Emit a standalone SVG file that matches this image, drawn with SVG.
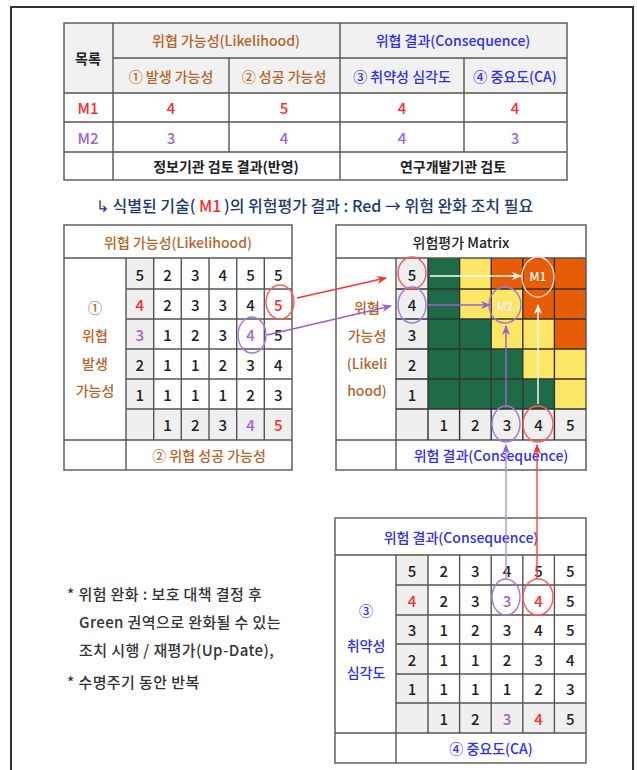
<svg xmlns="http://www.w3.org/2000/svg" width="637" height="770" viewBox="0 0 637 770">
<defs>
<style>
text{font-family:"Noto Sans CJK KR","Noto Sans",sans-serif;text-anchor:middle;dominant-baseline:central;font-size:14px;fill:#222;font-weight:500}
.ln{stroke:#555;stroke-width:1.4;fill:none}
.br{fill:#b5652b}
.bl{fill:#2f2ff0}
.rd{fill:#ff2a2a}
.pu{fill:#a064d2}
.hd{fill:#f1f1f1}
.gc{fill:#efefef}
.g{fill:#1f6b47}
.y{fill:#fde565}
.o{fill:#e85c06}
.n text{font-size:15px}
.note{text-anchor:start;fill:#333;font-size:15px;letter-spacing:0.4px}
.sub{font-size:16px;fill:#1f3a6e;text-anchor:start}
</style>
<marker id="ar" markerWidth="10" markerHeight="8" refX="9" refY="4" orient="auto" markerUnits="userSpaceOnUse"><path d="M0,0 L10,4 L0,8 L3,4 Z" fill="#ff2a2a"/></marker>
<marker id="ap" markerWidth="10" markerHeight="8" refX="9" refY="4" orient="auto" markerUnits="userSpaceOnUse"><path d="M0,0 L10,4 L0,8 L3,4 Z" fill="#9a5fd0"/></marker>
<marker id="aw" markerWidth="10" markerHeight="8" refX="9" refY="4" orient="auto" markerUnits="userSpaceOnUse"><path d="M0,0 L10,4 L0,8 L3,4 Z" fill="#ffffff"/></marker>
</defs>
<rect width="637" height="770" fill="#fff"/>
<path d="M11,770 V7 H633 V770" fill="none" stroke="#333" stroke-width="2"/>

<g id="summary-table">
<rect x="64" y="23" width="503" height="70" class="hd"/>
<rect x="64" y="23" width="503" height="157" class="ln"/>
<path class="ln" d="M113,23 V180 M340,23 V180 M113,58 H567 M229,58 V152 M464,58 V152 M64,93 H567 M64,122 H567 M64,152 H567"/>
<text x="88" y="58" style="font-weight:bold">목록</text>
<text x="226" y="40" class="br">위협 가능성(Likelihood)</text>
<text x="453" y="40" class="bl">위협 결과(Consequence)</text>
<text x="171" y="76" class="br">① 발생 가능성</text>
<text x="284" y="76" class="br">② 성공 가능성</text>
<text x="402" y="76" class="bl">③ 취약성 심각도</text>
<text x="515" y="76" class="bl">④ 중요도(CA)</text>
<g class="n">
<text x="88" y="107" class="rd">M1</text>
<text x="171" y="107" class="rd">4</text>
<text x="284" y="107" class="rd">5</text>
<text x="402" y="107" class="rd">4</text>
<text x="515" y="107" class="rd">4</text>
<text x="88" y="137" class="pu">M2</text>
<text x="171" y="137" class="pu">3</text>
<text x="284" y="137" class="pu">4</text>
<text x="402" y="137" class="pu">4</text>
<text x="515" y="137" class="pu">3</text>
</g>
<text x="226" y="166" style="font-weight:bold">정보기관 검토 결과(반영)</text>
<text x="453" y="166" style="font-weight:bold">연구개발기관 검토</text>
</g>

<g id="subtitle">
<text x="96" y="205" class="sub">↳ 식별된 기술(</text>
<text x="199" y="205" class="sub" style="fill:#ff2a2a">M1</text>
<text x="224" y="205" class="sub">)의 위험평가 결과 : Red → 위험 완화 조치 필요</text>
</g>

<g id="likelihood-table">
<rect x="126" y="258" width="27.7" height="182" class="gc"/>
<rect x="126" y="409" width="166" height="31" class="gc"/>
<rect x="64" y="225" width="228" height="245" class="ln"/>
<path class="ln" d="M64,258 H292 M126,258 V470 M126,289 H292 M126,319 H292 M126,349 H292 M126,379 H292 M126,409 H292 M64,440 H292 M153.7,258 V440 M181.3,258 V440 M209,258 V440 M236.7,258 V440 M264.3,258 V440"/>
<text x="178" y="242" class="br">위협 가능성(Likelihood)</text>
<text x="95" y="307" class="br">①</text>
<text x="95" y="335" class="br">위협</text>
<text x="95" y="363" class="br">발생</text>
<text x="95" y="390" class="br">가능성</text>
<text x="209" y="455" class="br">② 위협 성공 가능성</text>
<g class="n">
<text x="139.8" y="274">5</text><text x="167.5" y="274">2</text><text x="195.2" y="274">3</text><text x="222.8" y="274">4</text><text x="250.5" y="274">5</text><text x="278.2" y="274">5</text>
<text x="139.8" y="304" class="rd">4</text><text x="167.5" y="304">2</text><text x="195.2" y="304">3</text><text x="222.8" y="304">3</text><text x="250.5" y="304">4</text><text x="278.2" y="304" class="rd">5</text>
<text x="139.8" y="334" class="pu">3</text><text x="167.5" y="334">1</text><text x="195.2" y="334">2</text><text x="222.8" y="334">3</text><text x="250.5" y="334" class="pu">4</text><text x="278.2" y="334">5</text>
<text x="139.8" y="364">2</text><text x="167.5" y="364">1</text><text x="195.2" y="364">1</text><text x="222.8" y="364">2</text><text x="250.5" y="364">3</text><text x="278.2" y="364">4</text>
<text x="139.8" y="394">1</text><text x="167.5" y="394">1</text><text x="195.2" y="394">1</text><text x="222.8" y="394">1</text><text x="250.5" y="394">2</text><text x="278.2" y="394">3</text>
<text x="167.5" y="424.5">1</text><text x="195.2" y="424.5">2</text><text x="222.8" y="424.5">3</text><text x="250.5" y="424.5" class="pu">4</text><text x="278.2" y="424.5" class="rd">5</text>
</g>
<ellipse cx="280" cy="302" rx="14" ry="17" fill="none" stroke="#ff5a5a" stroke-width="1.4"/>
<ellipse cx="252" cy="335" rx="14" ry="18" fill="none" stroke="#a27ad8" stroke-width="1.4"/>
</g>

<g id="risk-matrix">
<rect x="396" y="258" width="32" height="182" class="gc"/>
<rect x="396" y="409" width="190" height="31" class="gc"/>
<rect x="428" y="258" width="31.6" height="151" class="g"/>
<rect x="459.6" y="258" width="31.6" height="31" class="y"/>
<rect x="491.2" y="258" width="94.8" height="31" class="o"/>
<rect x="459.6" y="289" width="63.2" height="30" class="y"/>
<rect x="522.8" y="289" width="63.2" height="30" class="o"/>
<rect x="459.6" y="319" width="31.6" height="90" class="g"/>
<rect x="491.2" y="319" width="63.2" height="30" class="y"/>
<rect x="554.4" y="319" width="31.6" height="30" class="o"/>
<rect x="491.2" y="349" width="31.6" height="60" class="g"/>
<rect x="522.8" y="349" width="63.2" height="30" class="y"/>
<rect x="522.8" y="379" width="31.6" height="30" class="g"/>
<rect x="554.4" y="379" width="31.6" height="30" class="y"/>
<rect x="336" y="225" width="250" height="245" class="ln"/>
<path class="ln" d="M336,258 H586 M396,258 V470 M336,440 H586"/>
<path d="M396,289 H586 M396,319 H586 M396,349 H586 M396,379 H586 M396,409 H586 M428,258 V440 M459.6,258 V440 M491.2,258 V440 M522.8,258 V440 M554.4,258 V440" stroke="#333" stroke-width="1.4" fill="none"/>
<text x="461" y="242">위험평가 Matrix</text>
<text x="367" y="307" class="br">위협</text>
<text x="367" y="335" class="br">가능성</text>
<text x="367" y="363" class="br">(Likeli</text>
<text x="367" y="390" class="br">hood)</text>
<text x="491" y="455" class="bl">위험 결과(Consequence)</text>
<g class="n">
<text x="412" y="274">5</text>
<text x="412" y="304">4</text>
<text x="412" y="334">3</text>
<text x="412" y="364">2</text>
<text x="412" y="394">1</text>
<text x="443.8" y="424.5">1</text><text x="475.4" y="424.5">2</text><text x="507" y="424.5">3</text><text x="538.6" y="424.5">4</text><text x="570.2" y="424.5">5</text>
</g>
<text x="538" y="275" style="fill:#fff;font-size:12px">M1</text>
<text x="505" y="305" style="fill:#f4ecff;font-size:12px">M2</text>
<ellipse cx="412" cy="273" rx="14" ry="16" fill="none" stroke="#ff5a5a" stroke-width="1.4"/>
<ellipse cx="412" cy="305" rx="14" ry="18" fill="none" stroke="#a27ad8" stroke-width="1.4"/>
<ellipse cx="538" cy="277" rx="16" ry="20" fill="none" stroke="#ffd8d0" stroke-width="1.4"/>
<ellipse cx="505" cy="305" rx="16" ry="18" fill="none" stroke="#a27ad8" stroke-width="1.4"/>
<ellipse cx="506" cy="424" rx="14" ry="18" fill="none" stroke="#a27ad8" stroke-width="1.4"/>
<ellipse cx="538" cy="424" rx="15" ry="18" fill="none" stroke="#ff5a5a" stroke-width="1.4"/>
</g>

<g id="consequence-table">
<rect x="396" y="555" width="32" height="178" class="gc"/>
<rect x="396" y="703" width="190" height="30" class="gc"/>
<rect x="335" y="518" width="251" height="245" class="ln"/>
<path class="ln" d="M335,555 H586 M396,555 V763 M396,585 H586 M396,615 H586 M396,644 H586 M396,674 H586 M396,703 H586 M335,733 H586 M428,555 V733 M459.6,555 V733 M491.2,555 V733 M522.8,555 V733 M554.4,555 V733"/>
<text x="461" y="537" class="bl">위험 결과(Consequence)</text>
<text x="366" y="610" class="bl">③</text>
<text x="366" y="645" class="bl">취약성</text>
<text x="366" y="672" class="bl">심각도</text>
<text x="491" y="748" class="bl">④ 중요도(CA)</text>
<g class="n">
<text x="412" y="570">5</text><text x="443.8" y="570">2</text><text x="475.4" y="570">3</text><text x="507" y="570">4</text><text x="538.6" y="570">5</text><text x="570.2" y="570">5</text>
<text x="412" y="600" class="rd">4</text><text x="443.8" y="600">2</text><text x="475.4" y="600">3</text><text x="507" y="600" class="pu">3</text><text x="538.6" y="600" class="rd">4</text><text x="570.2" y="600">5</text>
<text x="412" y="629.5">3</text><text x="443.8" y="629.5">1</text><text x="475.4" y="629.5">2</text><text x="507" y="629.5">3</text><text x="538.6" y="629.5">4</text><text x="570.2" y="629.5">5</text>
<text x="412" y="659">2</text><text x="443.8" y="659">1</text><text x="475.4" y="659">1</text><text x="507" y="659">2</text><text x="538.6" y="659">3</text><text x="570.2" y="659">4</text>
<text x="412" y="688.5">1</text><text x="443.8" y="688.5">1</text><text x="475.4" y="688.5">1</text><text x="507" y="688.5">1</text><text x="538.6" y="688.5">2</text><text x="570.2" y="688.5">3</text>
<text x="443.8" y="718">1</text><text x="475.4" y="718">2</text><text x="507" y="718" class="pu">3</text><text x="538.6" y="718" class="rd">4</text><text x="570.2" y="718">5</text>
</g>
<ellipse cx="506" cy="597" rx="14" ry="18" fill="none" stroke="#a27ad8" stroke-width="1.4"/>
<ellipse cx="538" cy="597" rx="15" ry="18" fill="none" stroke="#ff5a5a" stroke-width="1.4"/>
</g>

<g id="notes">
<text x="67" y="593" class="note">* 위험 완화 : 보호 대책 결정 후</text>
<text x="79" y="621" class="note">Green 권역으로 완화될 수 있는</text>
<text x="79" y="649" class="note">조치 시행 / 재평가(Up-Date),</text>
<text x="67" y="681" class="note">* 수명주기 동안 반복</text>
</g>

<g id="connectors" fill="none" stroke-width="1.4">
<line x1="297" y1="298" x2="386" y2="278" stroke="#ff3030" marker-end="url(#ar)"/>
<line x1="267" y1="335" x2="391" y2="306" stroke="#9a5fd0" marker-end="url(#ap)"/>
<line x1="430" y1="276" x2="521" y2="276" stroke="#ffffff" marker-end="url(#aw)"/>
<line x1="428" y1="305" x2="490" y2="305" stroke="#9a5fd0" marker-end="url(#ap)"/>
<line x1="538" y1="404" x2="538" y2="305" stroke="#ffffff" marker-end="url(#aw)"/>
<line x1="506" y1="408" x2="506" y2="326" stroke="#9a5fd0" marker-end="url(#ap)"/>
<line x1="506" y1="579" x2="506" y2="445" stroke="#b48ee0" marker-end="url(#ap)"/>
<line x1="537" y1="579" x2="537" y2="445" stroke="#ff4040" marker-end="url(#ar)"/>
</g>
</svg>
